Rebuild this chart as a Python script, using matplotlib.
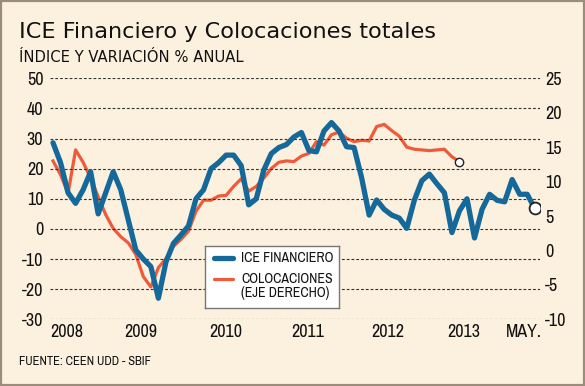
import numpy as np
import matplotlib
matplotlib.use('Agg')
import matplotlib.pyplot as plt
from matplotlib import font_manager as fm

# monthly index (0 = first point of the series)
ice_financiero = [28.6, 22, 12, 8.5, 13, 19, 5, 12, 19, 13,
                  3, -7, -10, -12.5, -23, -11, -4.8, -2, 1, 10,
                  13, 20, 22, 24.5, 24.5, 21, 8, 10, 19.5, 25,
                  27, 28, 30.5, 32, 26, 25.6, 32.5, 35.3, 32.5, 27.3,
                  27, 17, 4.6, 9.6, 6.5, 4.6, 3.6, 0.2, 9.5, 16,
                  18.2, 15, 12, -1.2, 6, 10, -3, 6.5, 11.5, 9.5,
                  9, 16.4, 11.5, 11.5, 6.8]
colocaciones = [13.0, 11, 8.3, 14.6, 12.8, 10.5, 7.8, 5.2, 3.2, 2.0,
                1.1, -0.6, -3.8, -5.3, -2.5, -1.2, 0.6, 1.6, 2.8, 5.7,
                7.3, 7.3, 7.9, 8.0, 9.3, 10.4, 8.6, 9.3, 10.5, 11.9,
                12.8, 13.0, 12.9, 13.7, 14.1, 15.8, 15.3, 16.8, 17.2, 16.3,
                15.8, 16.0, 15.9, 18.0, 18.3, 17.4, 16.6, 15.0, 14.7, 14.6,
                14.5, 14.6, 14.7, 13.6, 12.9]
year_labels = ['2008', '2009', '2010', '2011', '2012', '2013', 'MAY.']
year_pos = [1.8, 11.6, 22.9, 33.8, 44.5, 54.6, 62.5]
left_ticks = [50, 40, 30, 20, 10, 0, -10, -20, -30]
right_ticks = [25, 20, 15, 10, 5, 0, -5, -10]

BG = '#fcf0de'
BLUE = '#15699a'
RED = '#ee5a3a'

# narrow face for ticks, legend and source line
installed = set(f.name for f in fm.fontManager.ttflist)
NARROW = 'DejaVu Sans'
for cand in ['Liberation Sans Narrow', 'Archivo Narrow', 'Asap Condensed']:
    if cand in installed:
        NARROW = cand
        break

plt.rcParams['font.family'] = ['DejaVu Sans']

fig = plt.figure(figsize=(5.85, 3.86), dpi=100, facecolor=BG)
ax = fig.add_axes([50/585, 1 - 319.3/386, 490/585, 241/386])
ax2 = ax.twinx()

x_ice = np.arange(len(ice_financiero))
x_col = np.arange(len(colocaciones))

ax2.plot(x_col, colocaciones, color=RED, lw=2.3, solid_joinstyle='round', zorder=2)
ax2.plot(x_col[-1], colocaciones[-1], 'o', ms=6, mfc='white', mec='#222222', mew=1.0, zorder=4)
ax.plot(x_ice, ice_financiero, color=BLUE, lw=3.8, solid_joinstyle='round',
        solid_capstyle='round', zorder=3)
ax.plot(x_ice[-1], ice_financiero[-1], 'o', ms=8.5, mfc='white', mec='#222222', mew=1.3, zorder=5)
ax.set_zorder(ax2.get_zorder() + 1)
ax.patch.set_visible(False)

ax.set_xlim(-0.4, 64.7)
ax.set_ylim(-30, 50)
ax2.set_ylim(-10, 25)

for yv in left_ticks:
    ax.axhline(yv, color='#333333', lw=0.8, ls=(0, (2.5, 1.8)), zorder=1)

ax.set_yticks(left_ticks)
ax.set_yticklabels([str(v) for v in left_ticks], fontfamily=NARROW)
ax2.set_yticks(right_ticks)
ax2.set_yticklabels([str(v) for v in right_ticks], fontfamily=NARROW)
ax.set_xticks(year_pos)
ax.set_xticklabels(year_labels, fontfamily=NARROW)

ax.tick_params(axis='y', length=0, pad=4.8, labelsize=13, colors='#111111')
ax2.tick_params(axis='y', length=0, pad=3.6, labelsize=13, colors='#111111')
ax.tick_params(axis='x', length=0, pad=3.3, labelsize=13, colors='#111111')
for a in (ax, ax2):
    for s in a.spines.values():
        s.set_visible(False)

# legend box
leg_ax = fig.add_axes([205/585, 1 - 307.5/386, 134.5/585, 61.5/386])
leg_ax.set_zorder(20)
leg_ax.set_xlim(0, 134.5)
leg_ax.set_ylim(61.5, 0)
leg_ax.set_facecolor('white')
for s in leg_ax.spines.values():
    s.set_color('#777777')
    s.set_linewidth(1)
leg_ax.set_xticks([])
leg_ax.set_yticks([])
leg_ax.plot([9, 28], [12, 12], color=BLUE, lw=3.8, solid_capstyle='round')
leg_ax.plot([9, 28], [33, 33], color=RED, lw=2.3, solid_capstyle='round')
leg_ax.text(36, 12, 'ICE FINANCIERO', va='center', ha='left', fontsize=10,
            fontfamily=NARROW, color='#111111')
leg_ax.text(36, 33, 'COLOCACIONES', va='center', ha='left', fontsize=10,
            fontfamily=NARROW, color='#111111')
leg_ax.text(36, 47, '(EJE DERECHO)', va='center', ha='left', fontsize=10,
            fontfamily=NARROW, color='#111111')

fig.text(19/585, 1 - 38/386, 'ICE Financiero y Colocaciones totales', fontsize=16.1,
         va='baseline', ha='left', color='#111111')
fig.text(19/585, 1 - 62/386, 'ÍNDICE Y VARIACIÓN % ANUAL', fontsize=10.6,
         va='baseline', ha='left', color='#111111')
fig.text(19/585, 1 - 365/386, 'FUENTE: CEEN UDD - SBIF', fontsize=9,
         va='baseline', ha='left', color='#111111', fontfamily=NARROW)

# frame around the figure
fig.patches.append(plt.Rectangle((0.002, 0.003), 0.996, 0.994, transform=fig.transFigure,
                                 fill=False, ec='#9c8c7c', lw=1.6))

fig.savefig('out.png', dpi=100, facecolor=BG)
